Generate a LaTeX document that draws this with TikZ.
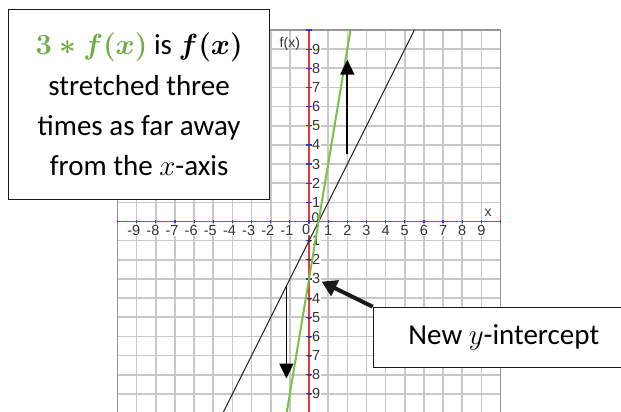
\RequirePackage{fix-cm}
\documentclass[tikz,border=0pt]{standalone}
\usepackage{amsmath}
\usepackage{fontspec}
\setmainfont{Carlito}
\newfontfamily\axisfont{Liberation Sans}
\usetikzlibrary{arrows.meta,positioning}
\definecolor{gridgray}{RGB}{200,200,200}
\definecolor{framegray}{RGB}{150,150,150}
\definecolor{axisred}{RGB}{235,55,55}
\definecolor{tickblue}{RGB}{45,60,200}
\definecolor{linegreen}{RGB}{120,195,70}
\definecolor{textgreen}{RGB}{112,173,71}
\definecolor{linedark}{RGB}{35,35,35}
\tikzset{
  callout/.style ={rectangle, draw=black!90, line width=1.3pt, fill=white, align=center,
                   inner sep=0pt, font=\fontsize{29}{40.3}\selectfont},
  gridline/.style={draw=gridgray, line width=1.6pt},
  framebox/.style={draw=framegray, line width=1.6pt},
  axisline/.style={draw=axisred, line width=1.8pt},
  tickmark/.style={draw=tickblue, line width=1.2pt},
  numlbl/.style  ={font=\axisfont\fontsize{14.5}{14.5}\selectfont, text=black!80, fill=white,
                   inner sep=0.5pt},
  axlbl/.style   ={font=\axisfont\fontsize{14}{14}\selectfont, text=black!80, inner sep=0.5pt},
  fline/.style   ={draw=linedark, line width=1pt},
  gline/.style   ={draw=linegreen, line width=2pt},
  stretcharrow/.style={-{Triangle[length=15pt,width=14pt]}, line width=1.8pt, draw=black},
  pointer/.style ={-{Triangle[length=15pt,width=17pt]}, line width=4pt, draw=black!90}
}
\begin{document}
\begin{tikzpicture}[x=1pt, y=-1pt]
\useasboundingbox (0,0) rectangle (621,412);
\clip (0,0) rectangle (621,412);

% ---- Graph ----
\begin{scope}[shift={(309pt,-221.5pt)}, x=19.15pt, y=19.15pt]
\foreach \k in {-10,...,10} {
  \draw[gridline] (\k,-10) -- (\k,10);
  \draw[gridline] (-10,\k) -- (10,\k);
}
\draw[framebox] (-10,-10) rectangle (10,10);
\draw[axisline] (-10,0) -- (10,0);
\draw[axisline] (0,-10) -- (0,10);
\foreach \k in {-10,...,10} {
  \draw[tickmark] (\k,-0.1) -- (\k,0.1);
  \draw[tickmark] (-0.16,\k) -- (0.16,\k);
}
% tick labels
\foreach \k in {-9,...,-1}
  \node[numlbl, anchor=north east] (xl\k) at (\k+0.22,-0.18) {\k};
\foreach \k in {1,...,9}
  \node[numlbl, anchor=north] (xl\k) at (\k,-0.18) {\k};
\node[numlbl, anchor=north east] (xl0) at (0.1,-0.12) {0};
\foreach \k in {1,...,9}
  \node[numlbl, anchor=west] (yl\k) at (0.12,\k) {\k};
\foreach \k in {1,...,9}
  \node[numlbl, anchor=west] (ylm\k) at (0.12,-\k) {\llap{-}\k};
\node[axlbl, anchor=west] (yl0) at (0.1,0.22) {0};
\node[axlbl] (xname) at (9.35,0.48) {x};
\node[axlbl] (yname) at (-1.0,9.3) {f(x)};

% f(x) = 2x - 1 and 3f(x) = 6x - 3
\draw[fline] (-4.5,-10) -- (5.5,10);
\draw[gline] ({-7/6},-10) -- ({13/6},10);

% ---- Stretch arrows ----
\coordinate (upfrom) at (2,3.5);
\coordinate (upto) at (2,8.45);
\coordinate (downfrom) at (-1.18,-3.3);
\coordinate (downto) at (-1.18,-8.2);
\coordinate (yint) at (0.66,-3.14);
\draw[stretcharrow] (upfrom) -- (upto);
\draw[stretcharrow] (downfrom) -- (downto);
\end{scope}

% ---- Callouts ----
\node[callout, anchor=north west, minimum width=261pt, minimum height=190pt] (stretch) at (8,9)
  {{\color{textgreen}$\boldsymbol{3*f(x)}$} is $\boldsymbol{f(x)}$\\stretched three\\times as far away\\from the $x$-axis};
\node[callout, anchor=north west, minimum width=261pt, minimum height=60pt] (newint) at (372.7,306.7)
  {New $y$-intercept};
\draw[pointer] (newint.north west) -- (yint);
\end{tikzpicture}
\end{document}
